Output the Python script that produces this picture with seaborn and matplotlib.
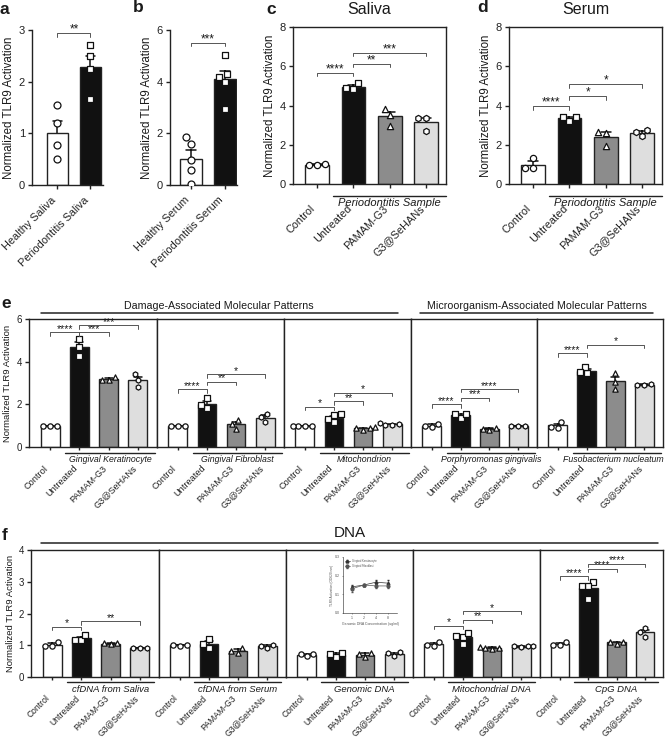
import warnings
import pandas as pd
import matplotlib
matplotlib.use('Agg')
import matplotlib.pyplot as plt
import seaborn as sns

warnings.filterwarnings('ignore')

# data
treat_groups = ['Control', 'Untreated', 'PAMAM-G3', 'G3@SeHANs']
treat_colors = ['white', '#111111', '#8c8c8c', '#dedede']
treat_markers = ['o', 's', '^', 'h']

a_groups = ['Healthy Saliva', 'Periodontitis Saliva']
a_values = [[1.55, 1.2, 0.78, 0.5], [2.71, 2.49, 2.24, 1.66]]
b_groups = ['Healthy Serum', 'Periodontitis Serum']
b_values = [[1.85, 1.6, 0.95, 0.6, 0.05], [5.03, 4.2, 4.3, 3.97, 2.95]]

c_saliva = [[0.95, 1.02, 0.98], [4.85, 5.15, 4.9], [3.82, 2.98, 3.52], [3.38, 2.72, 3.35]]
d_serum = [[0.81, 1.32, 0.81], [3.23, 3.43, 3.43], [2.62, 1.96, 2.65], [2.76, 2.45, 2.66]]

e_kera = [[1.0, 1.0, 1.0], [5.05, 4.71, 4.27], [3.12, 3.27, 3.15], [3.42, 3.14, 2.83]]
e_fibro = [[1.0, 1.0, 1.0], [1.81, 2.28, 1.99], [1.26, 0.86, 1.1], [1.54, 1.18, 1.41]]
e_mito = [[1.0, 1.0, 1.0, 1.0], [1.5, 1.15, 1.3, 1.55], [0.82, 0.92, 0.9, 0.88], [1.02, 1.13, 1.07, 1.02]]
e_pg = [[0.94, 1.1, 0.98], [1.38, 1.54, 1.54], [0.8, 0.88, 0.86], [0.98, 1.0, 1.0]]
e_fn = [[0.91, 1.18, 0.94], [3.45, 3.75, 3.5], [3.46, 3.06, 2.71], [2.9, 2.95, 2.92]]
e_names = ['Gingival Keratinocyte', 'Gingival Fibroblast', 'Mitochondrion',
           'Porphyromonas gingivalis', 'Fusobacterium nucleatum']

f_saliva = [[0.99, 1.09, 0.99], [1.15, 1.33, 1.17], [1.04, 1.06, 1.06], [0.9, 0.91, 0.91]]
f_serum = [[0.99, 1.02, 1.0], [0.91, 1.19, 1.03], [0.75, 0.91, 0.81], [0.92, 1.0, 0.99]]
f_genomic = [[0.65, 0.73, 0.73], [0.64, 0.76, 0.72], [0.64, 0.76, 0.72], [0.78, 0.66, 0.76]]
f_mtdna = [[0.98, 1.1, 1.02], [1.27, 1.03, 1.3, 1.4], [0.88, 0.96, 0.9, 0.92], [0.93, 0.97, 0.97, 0.97]]
f_cpg = [[1.0, 1.11, 1.0], [3.0, 2.47, 2.86, 2.86], [1.04, 1.11, 1.11], [1.55, 1.27, 1.42]]
f_names = ['cfDNA from Saliva', 'cfDNA from Serum', 'Genomic DNA', 'Mitochondrial DNA', 'CpG DNA']

# inset (genomic DNA dose)
inset_conc = ['1', '2', '4', '8']
inset_kera = [0.14, 0.15, 0.165, 0.16]
inset_kera_err = [0.01, 0.005, 0.01, 0.015]
inset_fibro = [0.13, 0.15, 0.145, 0.145]
inset_fibro_err = [0.015, 0.005, 0.01, 0.01]

# significance annotations: (group i, group j, height, label)
a_sig = [(0, 1, 2.94, '**')]
b_sig = [(0, 1, 5.51, '***')]
c_sig = [(0, 1, 5.67, '****'), (1, 2, 6.14, '**'), (1, 3, 6.68, '***')]
d_sig = [(0, 1, 3.97, '****'), (1, 2, 4.48, '*'), (1, 3, 5.09, '*')]
e_sig = [[(0, 1, 5.37, '****'), (1, 2, 5.37, '***'), (1, 3, 5.7, '***')],
         [(0, 1, 2.70, '****'), (1, 2, 3.06, '**'), (1, 3, 3.42, '*')],
         [(0, 1, 1.89, '*'), (1, 2, 2.15, '**'), (1, 3, 2.54, '*')],
         [(0, 1, 2.01, '****'), (1, 2, 2.32, '***'), (1, 3, 2.72, '****')],
         [(0, 1, 4.4, '****'), (1, 3, 4.8, '*')]]
f_sig = [[(0, 1, 1.59, '*'), (1, 3, 1.75, '**')],
         [],
         [],
         [(0, 1, 1.61, '*'), (1, 2, 1.81, '**'), (1, 3, 2.08, '*')],
         [(0, 1, 3.18, '****'), (1, 2, 3.41, '****'), (1, 3, 3.57, '****')]]

# style
sns.set_theme(style='ticks')
plt.rcParams['font.family'] = ['Liberation Sans', 'DejaVu Sans']
plt.rcParams['axes.edgecolor'] = '#222222'
plt.rcParams['axes.linewidth'] = 1.0
plt.rcParams['xtick.color'] = '#222222'
plt.rcParams['ytick.color'] = '#222222'
plt.rcParams['text.color'] = '#1a1a1a'
plt.rcParams['axes.labelcolor'] = '#1a1a1a'

W, H = 667, 741
fig = plt.figure(figsize=(W / 100, H / 100), dpi=100)


def px_axes(l, t, r, b):
    return fig.add_axes([l / W, 1 - b / H, (r - l) / W, (b - t) / H])


def long_df(groups, values):
    return pd.DataFrame({'group': [g for g, v in zip(groups, values) for _ in v],
                         'value': [x for v in values for x in v]})


def draw_bars(ax, groups, values, colors, markers, msize):
    df = long_df(groups, values)
    sns.barplot(data=df, x='group', y='value', hue='group', order=groups, hue_order=groups,
                palette=colors, saturation=1, width=0.65, errorbar='se', capsize=0.28,
                err_kws={'color': '#111111', 'linewidth': 1.1, 'zorder': 0.5},
                edgecolor='#222222', linewidth=1.0, legend=False, ax=ax)
    for g, m in zip(groups, markers):
        sns.swarmplot(data=df[df['group'] == g], x='group', y='value', order=groups,
                      marker=m, color='white', edgecolor='#111111', linewidth=0.9,
                      size=msize, zorder=3, ax=ax)
    ax.set_xlabel('')
    ax.set_ylabel('')


def bracket(ax, sig, fs):
    y0, y1 = ax.get_ylim()
    h = 3.5 / ax.bbox.height * (y1 - y0)
    for i, j, y, lab in sig:
        ax.plot([i, i, j, j], [y - h, y, y, y - h], color='#555555', lw=0.7, zorder=4)
        ax.text((i + j) / 2, y + h * 0.1, lab, ha='center', va='baseline', fontsize=fs)


def group_label(ax, x0, x1, text, line_px, text_px, fs, shift=0.0):
    hpx = ax.bbox.height
    trans = ax.get_xaxis_transform()
    ax.plot([x0, x1], [-line_px / hpx] * 2, transform=trans, color='#222222',
            lw=1.0, clip_on=False)
    ax.text((x0 + x1) / 2 + shift, -text_px / hpx, text, transform=trans, ha='center',
            va='center', fontsize=fs, style='italic')


def xlabels(ax, labels, fs, pad, length=3):
    ax.set_xticks(range(len(labels)))
    ax.set_xticklabels(labels, rotation=45, ha='right', fontsize=fs)
    ax.tick_params(axis='x', length=length, width=1.0, pad=pad)


def fig_text(x, y, s, **kw):
    fig.text(x / W, 1 - y / H, s, **kw)


def fig_line(x0, x1, y):
    fig.add_artist(plt.Line2D([x0 / W, x1 / W], [1 - y / H, 1 - y / H],
                              color='#222222', lw=1.1))


ylab = 'Normalized TLR9 Activation'

# panel a
ax = px_axes(32, 30, 103, 185)
draw_bars(ax, a_groups, a_values, ['white', '#111111'], ['o', 's'], 5)
ax.set_ylim(0, 3)
ax.set_xlim(-0.77, 1.38)
ax.set_yticks([0, 1, 2, 3])
bracket(ax, a_sig, 8.5)
xlabels(ax, a_groups, 7.8, 4)
ax.tick_params(axis='y', labelsize=8, length=3, width=1.0, pad=2)
ax.set_ylabel(ylab, fontsize=8.3, labelpad=3)
sns.despine(ax=ax)

# panel b
ax = px_axes(170, 30, 237, 185)
draw_bars(ax, b_groups, b_values, ['white', '#111111'], ['o', 's'], 5)
ax.set_ylim(0, 6)
ax.set_xlim(-0.62, 1.35)
ax.set_yticks([0, 2, 4, 6])
bracket(ax, b_sig, 8.5)
xlabels(ax, b_groups, 7.8, 4)
ax.tick_params(axis='y', labelsize=8, length=3, width=1.0, pad=2)
ax.set_ylabel(ylab, fontsize=8.3, labelpad=3)
sns.despine(ax=ax)

# panels c, d
for (l, r), vals, sig, title in [((293, 446), c_saliva, c_sig, 'Saliva'),
                                 ((509, 662), d_serum, d_sig, 'Serum')]:
    ax = px_axes(l, 27, r, 184)
    draw_bars(ax, treat_groups, vals, treat_colors, treat_markers, 4.5)
    ax.set_ylim(0, 8)
    ax.set_xlim(-0.66, 3.54)
    ax.set_yticks([0, 2, 4, 6, 8])
    bracket(ax, sig, 8.5)
    xlabels(ax, treat_groups, 7.8, 11)
    ax.tick_params(axis='y', labelsize=8, length=3, width=1.0, pad=2)
    ax.set_ylabel(ylab, fontsize=8.3, labelpad=3)
    group_label(ax, 0.45, 3.54, 'Periodontitis Sample', 12, 19, 8)
    ax.set_title(title, fontsize=11.5, pad=9)

# panel e
e_sets = [e_kera, e_fibro, e_mito, e_pg, e_fn]
e_edges = [29, 157, 284, 411, 537, 663]
for k in range(5):
    ax = px_axes(e_edges[k], 319, e_edges[k + 1], 447)
    draw_bars(ax, treat_groups, e_sets[k], treat_colors, treat_markers, 3.8)
    ax.set_ylim(0, 6)
    ax.set_xlim(-0.72, 3.65)
    ax.set_yticks([0, 2, 4, 6])
    bracket(ax, e_sig[k], 7.5)
    xlabels(ax, treat_groups, 6.6, 10, length=2)
    group_label(ax, 0.52, 3.58, e_names[k], 5.5, 12, 6.3,
                shift=-0.12 if k == 4 else 0.0)
    if k == 0:
        ax.tick_params(axis='y', labelsize=7, length=3, width=1.0, pad=2)
        ax.set_ylabel(ylab, fontsize=6.8, labelpad=3)
    else:
        ax.tick_params(axis='y', left=False, labelleft=False)

# panel f
f_sets = [f_saliva, f_serum, f_genomic, f_mtdna, f_cpg]
f_edges = [31, 159, 286, 413, 540, 663]
for k in range(5):
    ax = px_axes(f_edges[k], 550, f_edges[k + 1], 677)
    draw_bars(ax, treat_groups, f_sets[k], treat_colors, treat_markers, 3.8)
    ax.set_ylim(0, 4)
    ax.set_xlim(-0.72, 3.65)
    ax.set_yticks([0, 1, 2, 3, 4])
    bracket(ax, f_sig[k], 7.5)
    xlabels(ax, treat_groups, 6.2, 10, length=2)
    group_label(ax, 0.5, 3.48, f_names[k], 5, 12, 6.8)
    if k == 0:
        ax.tick_params(axis='y', labelsize=7, length=3, width=1.0, pad=2)
        ax.set_ylabel(ylab, fontsize=6.8, labelpad=3)
    else:
        ax.tick_params(axis='y', left=False, labelleft=False)

# inset in genomic DNA panel
ax_in = px_axes(343, 557, 397, 613)
xi = range(len(inset_conc))
ax_in.errorbar(xi, inset_kera, yerr=inset_kera_err, color='#333333', marker='^',
               ms=2, lw=0.5, elinewidth=0.4, capsize=0.8, label='Gingival Keratinocyte')
ax_in.errorbar(xi, inset_fibro, yerr=inset_fibro_err, color='#555555', marker='o',
               ms=2, lw=0.5, elinewidth=0.4, capsize=0.8, label='Gingival Fibroblast')
ax_in.set_ylim(0, 0.3)
ax_in.set_xlim(-0.75, 3.75)
ax_in.set_xticks(list(xi))
ax_in.set_xticklabels(inset_conc)
ax_in.set_yticks([0, 0.1, 0.2, 0.3])
ax_in.set_yticklabels(['0.0', '0.1', '0.2', '0.3'])
ax_in.tick_params(labelsize=2.6, length=1, width=0.4, pad=1, colors='#555555')
ax_in.set_ylabel('TLR9 Activation (OD620 nm)', fontsize=2.3, labelpad=1, color='#555555')
ax_in.set_xlabel('Genomic DNA Concentration (ug/ml)', fontsize=2.5, labelpad=1.5,
                 color='#555555')
ax_in.legend(fontsize=1.9, frameon=False, loc='upper left', handlelength=2,
             labelcolor='#555555', borderaxespad=0.3)
sns.despine(ax=ax_in)
for s in ax_in.spines.values():
    s.set_linewidth(0.4)

# section headers
fig_text(219, 306, 'Damage-Associated Molecular Patterns', ha='center', va='center', fontsize=7.7)
fig_line(41, 398, 313)
fig_text(537, 306, 'Microorganism-Associated Molecular Patterns', ha='center', va='center',
         fontsize=7.7)
fig_line(420, 653, 313)
fig_text(350, 533, 'DNA', ha='center', va='center', fontsize=11)
fig_line(41, 658, 543)

# panel letters
for x, y, s in [(0, 9, 'a'), (133, 7, 'b'), (266, 9, 'c'), (477, 7, 'd'),
                (1, 303, 'e'), (2, 535, 'f')]:
    fig_text(x, y, s, fontsize=12.5, fontweight='bold', va='center', ha='left')

fig.savefig('out.png', dpi=100)
